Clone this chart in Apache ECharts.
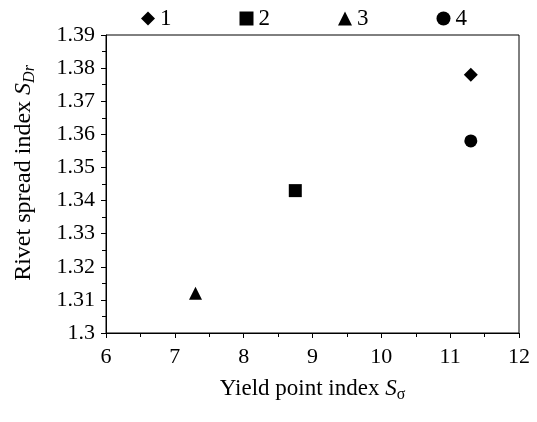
<!DOCTYPE html>
<html>
<head>
<meta charset="utf-8">
<script src="https://cdn.jsdelivr.net/npm/echarts@6/dist/echarts.min.js"></script>
<style>
  html, body { margin: 0; padding: 0; background: #fff; }
  #chart { width: 537px; height: 422px; }
</style>
</head>
<body>
<div id="chart"></div>
<script>
  // 数据
  var seriesNames = ['1', '2', '3', '4'];
  var markerShapes = ['diamond', 'rect', 'triangle', 'circle'];
  var yieldIndex = [11.3, 8.75, 7.3, 11.3];
  var spreadIndex = [1.378, 1.343, 1.312, 1.358];

  var font = '"Liberation Serif", "Times New Roman", serif';
  var myChart = echarts.init(document.getElementById('chart'));

  var series = [];
  for (var i = 0; i < seriesNames.length; i++) {
    series.push({
      name: seriesNames[i],
      type: 'scatter',
      symbol: markerShapes[i],
      symbolSize: markerShapes[i] == 'diamond' ? 14 : 13,
      itemStyle: { color: '#000', opacity: 1 },
      data: [[yieldIndex[i], spreadIndex[i]]]
    });
  }

  myChart.setOption({
    animation: false,
    textStyle: { fontFamily: font },
    legend: {
      top: 2,
      left: 136,
      itemGap: 68,
      itemWidth: 14,
      itemHeight: 14,
      textStyle: { fontFamily: font, fontSize: 23, color: '#000' },
      data: seriesNames.map(function (n, i) {
        return { name: n, icon: markerShapes[i], itemStyle: { color: '#000', opacity: 1 } };
      })
    },
    grid: {
      left: 106, right: 18, top: 35, bottom: 89,
      show: true, borderColor: '#000', borderWidth: 1
    },
    xAxis: {
      type: 'value',
      min: 6, max: 12, interval: 1,
      name: '{t|Yield point index }{i|S}{s|σ}',
      nameLocation: 'middle',
      nameGap: 42,
      nameTextStyle: {
        rich: {
          t: { fontFamily: font, fontSize: 23, color: '#000' },
          i: { fontFamily: font, fontSize: 23, fontStyle: 'italic', color: '#000' },
          s: { fontFamily: font, fontSize: 16, color: '#000', padding: [12, 0, 0, 0] }
        }
      },
      axisLine: { lineStyle: { color: '#000' } },
      axisTick: { inside: false, length: 5, lineStyle: { color: '#000' } },
      minorTick: { show: true, splitNumber: 2, length: 4, lineStyle: { color: '#000' } },
      splitLine: { show: false },
      axisLabel: { fontFamily: font, fontSize: 22, color: '#000', margin: 13 }
    },
    yAxis: {
      type: 'value',
      min: 1.3, max: 1.39, interval: 0.01,
      name: '{t|Rivet spread index }{i|S}{s|Dr}',
      nameLocation: 'middle',
      nameGap: 68,
      nameTextStyle: {
        padding: [0, 0, 0, 22],
        rich: {
          t: { fontFamily: font, fontSize: 24, color: '#000' },
          i: { fontFamily: font, fontSize: 24, fontStyle: 'italic', color: '#000' },
          s: { fontFamily: font, fontSize: 16, fontStyle: 'italic', color: '#000', padding: [12, 0, 0, 0] }
        }
      },
      axisLine: { show: true, lineStyle: { color: '#000' } },
      axisTick: { show: true, inside: false, length: 5, lineStyle: { color: '#000' } },
      minorTick: { show: true, splitNumber: 2, length: 4, lineStyle: { color: '#000' } },
      splitLine: { show: false },
      axisLabel: {
        fontFamily: font, fontSize: 22, color: '#000', margin: 11,
        formatter: function (v) { return String(parseFloat(v.toFixed(2))); }
      }
    },
    series: series
  });
</script>
</body>
</html>
